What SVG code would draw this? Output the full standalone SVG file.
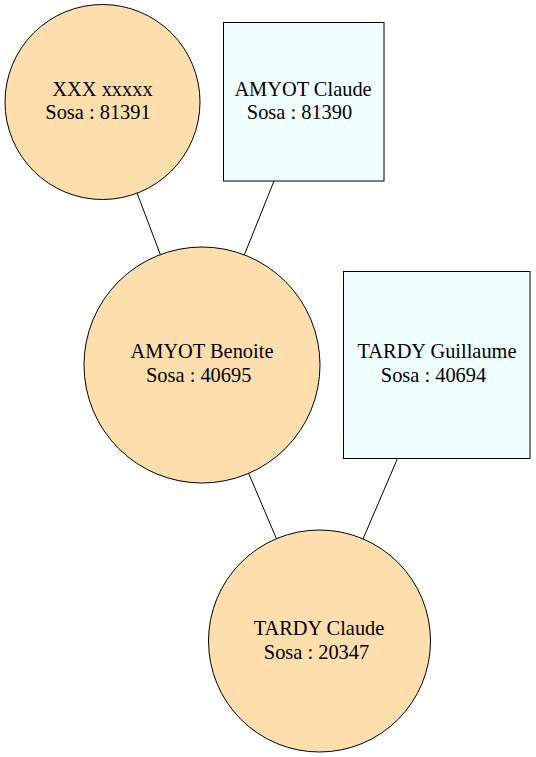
<svg xmlns="http://www.w3.org/2000/svg" width="536" height="757" viewBox="0 0 536 757">
<style>
.person{fill:#FFDEAD;stroke:#000;stroke-width:1}
.box{fill:#F0FFFF;stroke:#000;stroke-width:1}
.edge{stroke:#000;stroke-width:1;fill:none}
text{font-family:"Liberation Serif","Times New Roman",serif;font-size:20.4px;fill:#000;text-anchor:middle}
</style>
<rect width="536" height="757" fill="#fff"/>
<g id="edges">
<line class="edge" x1="136.7" y1="192" x2="160.5" y2="255"/>
<line class="edge" x1="274" y1="181" x2="244.3" y2="255"/>
<line class="edge" x1="248.5" y1="473" x2="277" y2="540"/>
<line class="edge" x1="397.5" y1="458.5" x2="363" y2="539"/>
</g>
<g id="n81391">
<circle class="person" cx="102.5" cy="102" r="97.5"/>
<text x="102.5" y="96">XXX xxxxx</text>
<text x="98" y="119.3">Sosa : 81391</text>
</g>
<g id="n81390">
<rect class="box" x="223.5" y="22.5" width="160.5" height="158.5"/>
<text x="303" y="96">AMYOT Claude</text>
<text x="299.5" y="119.3">Sosa : 81390</text>
</g>
<g id="n40695">
<circle class="person" cx="202" cy="365" r="118"/>
<text x="202" y="358.3">AMYOT Benoite</text>
<text x="198.7" y="381.7">Sosa : 40695</text>
</g>
<g id="n40694">
<rect class="box" x="343.5" y="271.5" width="186.5" height="187"/>
<text x="437" y="358.3">TARDY Guillaume</text>
<text x="433.5" y="381.7">Sosa : 40694</text>
</g>
<g id="n20347">
<circle class="person" cx="319.5" cy="641" r="111"/>
<text x="319" y="635">TARDY Claude</text>
<text x="316.5" y="659.3">Sosa : 20347</text>
</g>
</svg>
